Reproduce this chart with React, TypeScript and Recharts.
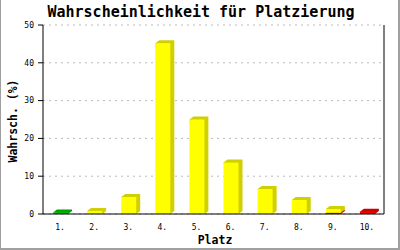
import React from 'react';
import { BarChart, Bar, XAxis, YAxis, CartesianGrid } from 'recharts';

const places = ['1.', '2.', '3.', '4.', '5.', '6.', '7.', '8.', '9.', '10.'];
const greenValues = [0.4, 0, 0, 0, 0, 0, 0, 0, 0, 0];
const yellowValues = [0, 0.8, 4.5, 45.2, 25.0, 13.6, 6.6, 3.7, 1.0, 0];
const redValues = [0, 0, 0, 0, 0, 0, 0, 0, 0.3, 0.6];
const yTicks = [0, 10, 20, 30, 40, 50];

const data = places.map((p, i) => ({
  place: p,
  red: redValues[i],
  yellow: yellowValues[i],
  green: greenValues[i],
}));

const makeShape = (front: string, dark: string) => (props: any) => {
  const { x, y, width, height } = props;
  if (!height || height <= 0.01) return null;
  const dx = 4;
  const dy = 3;
  const pts = [
    [x, y],
    [x + dx, y - dy],
    [x + width + dx, y - dy],
    [x + width + dx, y + height - dy],
    [x + width, y + height],
  ]
    .map((p) => p.join(','))
    .join(' ');
  return (
    <g>
      <polygon points={pts} fill={dark} />
      <rect x={x} y={y} width={width} height={height} fill={front} />
    </g>
  );
};

const mono = '"DejaVu Sans Mono", "Liberation Mono", monospace';

export default function App() {
  return (
    <div
      style={{
        position: 'absolute',
        left: 0,
        top: 0,
        width: 400,
        height: 250,
        background: '#fff',
        boxSizing: 'border-box',
        borderLeft: '1px solid #a0a0a0',
        borderRight: '2px solid #a0a0a0',
        borderBottom: '2px solid #a0a0a0',
        overflow: 'hidden',
      }}
    >
      <div
        style={{
          position: 'absolute',
          left: 0,
          top: 3,
          width: 400,
          textAlign: 'center',
          fontFamily: mono,
          fontWeight: 'bold',
          fontSize: 15,
          lineHeight: '18px',
          color: '#000',
        }}
      >
        Wahrscheinlichkeit für Platzierung
      </div>
      <div
        style={{
          position: 'absolute',
          left: 12 - 60,
          top: 121 - 8,
          width: 120,
          height: 16,
          lineHeight: '16px',
          textAlign: 'center',
          transform: 'rotate(-90deg)',
          fontFamily: mono,
          fontWeight: 'bold',
          fontSize: 11.5,
          color: '#000',
        }}
      >
        Wahrsch. (%)
      </div>
      <div
        style={{
          position: 'absolute',
          left: 214 - 40,
          top: 232,
          width: 80,
          lineHeight: '16px',
          textAlign: 'center',
          fontFamily: mono,
          fontWeight: 'bold',
          fontSize: 11.5,
          color: '#000',
        }}
      >
        Platz
      </div>
      <div style={{ position: 'absolute', left: -1, top: 0 }}>
        <BarChart
          width={400}
          height={250}
          data={data}
          margin={{ top: 25, right: 15, bottom: 0, left: 8 }}
          barCategoryGap={0}
        >
          <CartesianGrid
            vertical={false}
            stroke="#bbbbbb"
            strokeDasharray="2 4"
          />
          <XAxis
            dataKey="place"
            height={36}
            tickLine={false}
            axisLine={{ stroke: '#000' }}
            tick={{ fontSize: 8, fontFamily: mono, fill: '#000' }}
            tickMargin={4}
            interval={0}
          />
          <YAxis
            domain={[0, 50]}
            ticks={yTicks}
            width={35}
            tickSize={5}
            tickMargin={4}
            axisLine={{ stroke: '#000' }}
            tickLine={{ stroke: '#000' }}
            tick={{ fontSize: 8, fontFamily: mono, fill: '#000' }}
            allowDataOverflow
          />
          <YAxis
            yAxisId="r"
            orientation="right"
            domain={[0, 50]}
            width={1}
            tick={false}
            tickLine={false}
            axisLine={{ stroke: '#000' }}
          />
          <Bar
            dataKey="red"
            stackId="s"
            barSize={15}
            isAnimationActive={false}
            shape={makeShape('#ff0000', '#cc0000')}
          />
          <Bar
            dataKey="yellow"
            stackId="s"
            barSize={15}
            isAnimationActive={false}
            shape={makeShape('#ffff00', '#d0d000')}
          />
          <Bar
            dataKey="green"
            stackId="s"
            barSize={15}
            isAnimationActive={false}
            shape={makeShape('#00cc00', '#00a000')}
          />
        </BarChart>
      </div>
    </div>
  );
}
